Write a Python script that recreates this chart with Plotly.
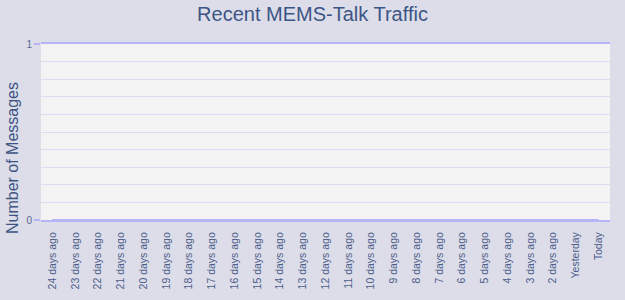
import plotly.graph_objects as go

categories = [f"{n} days ago" for n in range(24, 1, -1)] + ["Yesterday", "Today"]
messages = [0] * 25
y_ticks = [0, 1]

fig = go.Figure()
fig.add_trace(go.Scatter(
    x=categories, y=messages, mode="lines",
    line=dict(color="#b4b4f6", width=2), hoverinfo="x+y", showlegend=False,
))

fig.update_layout(
    width=625, height=300,
    margin=dict(l=41, r=15, t=44, b=80),
    paper_bgcolor="#dcdde9",
    plot_bgcolor="#f3f3f3",
    font=dict(family="Liberation Sans, Arial, sans-serif", color="#4d5d8a"),
    title=dict(text="Recent MEMS-Talk Traffic", x=0.5, xanchor="center", y=0.955, yanchor="middle",
               font=dict(size=20, color="#3d5585")),
    showlegend=False,
    annotations=[dict(
        text="Number of Messages", xref="paper", yref="paper", x=0, y=0.352,
        xshift=-29, xanchor="center", yanchor="middle", textangle=-90, showarrow=False,
        font=dict(size=16, color="#3d5585"),
    )],
)
fig.update_xaxes(
    type="category", range=[-0.5, 24.5], tickangle=-90,
    tickfont=dict(size=10.5, color="#4d5d8a"), showgrid=False, zeroline=False,
    ticks="", ticklabelstandoff=6,
    showline=True, mirror=True, linecolor="#b4b4f6", linewidth=2, layer="above traces",
)
fig.update_yaxes(
    range=[0, 1], tickvals=y_ticks, ticktext=[str(v) for v in y_ticks],
    tickfont=dict(size=10, color="#5a6690"),
    showgrid=False,
    ticks="outside", ticklen=6, tickcolor="#b4b4f6", tickwidth=2,
    minor=dict(dtick=0.1, showgrid=True, gridcolor="#dedaf6", gridwidth=1, ticks=""),
    zeroline=True, zerolinecolor="#b4b4f6", zerolinewidth=2, showline=False,
)

fig.write_html("out.html")
